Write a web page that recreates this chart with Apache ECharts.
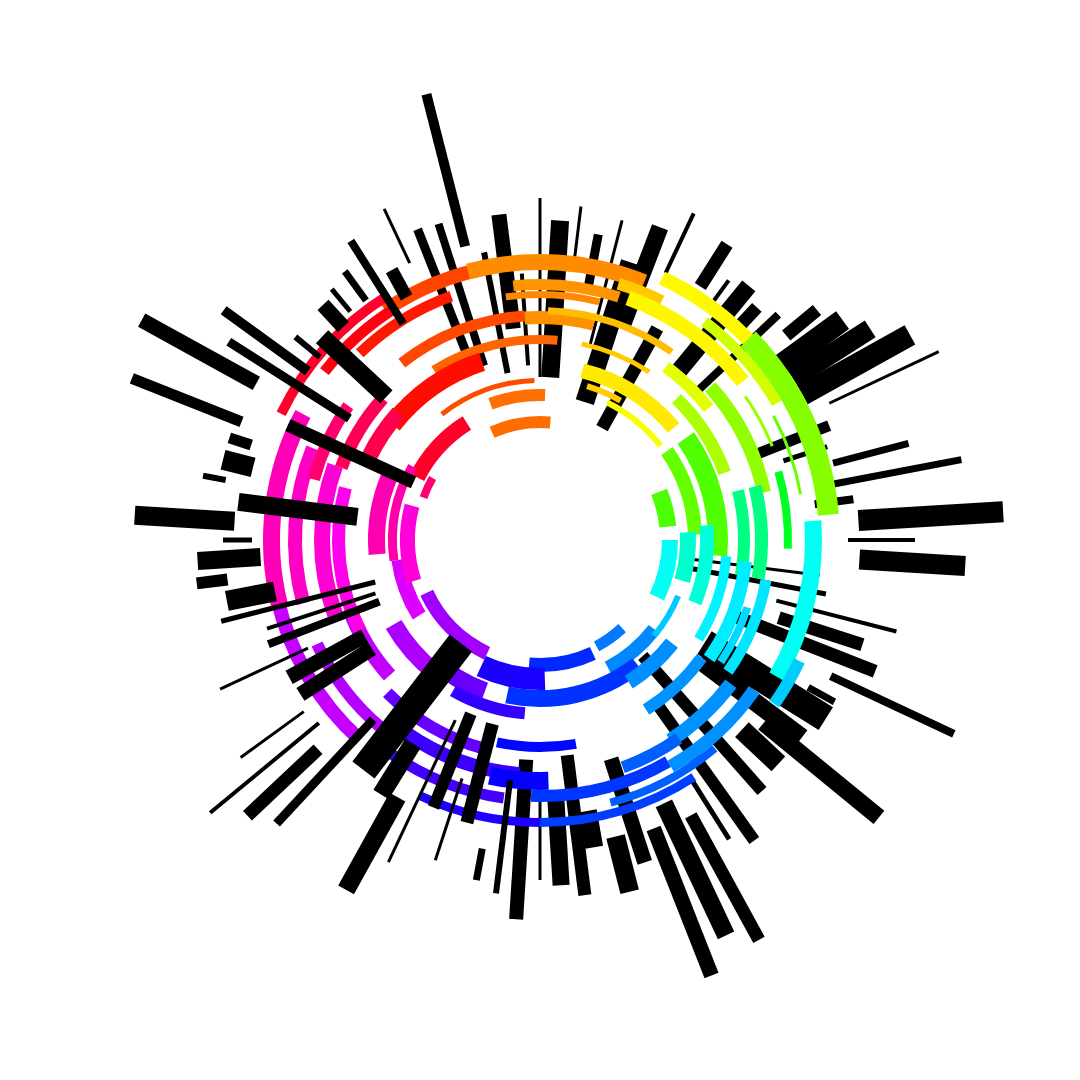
<!DOCTYPE html>
<html>
<head>
<meta charset="utf-8">
<script src="https://cdn.jsdelivr.net/npm/echarts@6/dist/echarts.min.js"></script>
<style>
  html, body { margin: 0; padding: 0; background: #fff; }
  #main { width: 1080px; height: 1080px; }
</style>
</head>
<body>
<div id="main"></div>
<script>
// radial bars: [angle (deg, clockwise from 12 o'clock), inner radius, outer radius, thickness]
var barsBehind = [
  [345.7,303,460,10], [338.5,197,334,9], [342.2,183,332,8], [352.8,213,328,15],
  [349,170,293,6], [356.1,175,267,4], [0,163,342,3], [3.6,163,320,18],
  [7,280,336,3], [10.8,251,311,9], [14.4,200,330,3], [21,230,335,17],
  [18,145,292,19], [29,128,242,13], [25.2,295,361,4], [32.3,300,350,13],
  [36,296,321,4], [39.4,220,329,17], [43,290,318,13], [46.6,213,328,8],
  [50.3,320,360,13], [54,290,374,22], [57.4,300,392,20], [61,300,423,22],
  [64.7,320,441,3], [68.4,233,311,11], [72,256,302,5], [75.3,303,381,7],
  [79.2,299,429,7], [82.6,277,316,8], [86.5,319,464,21], [90,308,375,4],
  [93.5,320,426,20], [97.2,143,282,3], [100.7,143,291,5], [104.4,244,368,4],
  [108,251,339,13], [111.4,206,360,13], [115.1,321,457,8], [118.8,306,336,7],
  [122,194,337,27], [127,200,328,18], [129.3,289,438,17], [133.2,277,327,20],
  [138.5,155,335,12], [144.5,200,369,12], [147.7,283,354,5], [151.3,314,456,13],
  [154.8,291,437,18], [158.5,310,468,15], [162,230,339,15], [165.7,306,363,19],
  [170,275,312,18], [172.8,217,358,13], [176.5,259,346,17], [180,257,340,3],
  [183.6,220,380,14]
];
var barsFront = [
  [187.1,242,356,6], [190.6,314,346,7], [194.5,190,292,13], [198.1,251,337,3],
  [201.7,187,288,12], [205.2,199,356,3], [209,294,400,18], [212,240,300,18],
  [217.5,130,290,28], [222.9,245,387,9], [226.7,305,402,13], [230.4,287,428,4],
  [234,292,370,3], [237.2,200,285,15], [241.3,200,286,15], [245,256,353,3],
  [249,172,291,8], [252,173,287,4], [255.7,170,329,5], [259,270,319,20],
  [262.8,315,346,12], [266.5,280,343,18], [270,288,317,5], [273.5,306,406,19],
  [277.2,184,304,18], [280.8,320,343,6], [284.2,296,327,20], [288.2,304,327,11],
  [291.6,321,439,11], [294.5,139,277,13], [298.9,324,455,15], [302.5,226,369,9],
  [306,287,391,10], [309.7,286,318,6], [313,210,298,18], [317.3,290,320,15],
  [320.3,297,326,5], [324,296,332,7], [327.7,256,354,8], [331.2,277,308,13],
  [334.8,306,366,3]
];
// arcs: [start angle, end angle, inner radius, outer radius]
var arcs = [
  [326,350,270,284], [345,382,270,286], [296,328,283,293], [308,328,268,279],
  [316,340,254,265], [322,356,219,230], [356,374,216,229], [328,365,196,205],
  [308,342,178,197], [322,358,157,162], [340,362,139,151], [336,365,112,124],
  [297,328,130,146], [290,300,120,128], [354,378,250,261], [17,27,262,274],
  [2,35,226,233], [352,374,242,249], [12,33,198,203], [14,50,167,182],
  [17,30,158,164], [26,52,150,156], [20,52,250,265], [25,48,282,296],
  [37,60,268,279], [46,85,279,300], [55,68,249,252], [62,80,263,266],
  [36,52,208,220], [48,78,222,236], [44,70,190,203], [55,88,148,162],
  [55,95,168,188], [68,84,120,137], [76,100,198,210], [76,100,215,228],
  [74,92,244,252], [86,120,265,282], [87,106,140,156], [85,112,160,174],
  [90,116,122,138], [95,122,182,192], [96,125,200,213], [108,124,214,222],
  [100,125,224,235], [115,125,280,292], [137,152,115,126], [128,152,138,152],
  [112,130,146,152], [155,185,118,132], [142,192,150,167], [128,148,160,175],
  [126,148,194,206], [127,147,232,246], [145,160,236,248], [125,150,255,268],
  [150,182,250,262], [140,165,268,276], [170,192,202,212], [147,180,278,287],
  [180,205,278,287], [238,262,135,150], [205,245,118,132], [178,205,128,150],
  [218,240,160,178], [200,222,152,170], [185,210,168,180], [228,250,195,210],
  [222,258,262,276], [220,245,240,252], [195,225,210,222], [185,215,228,242],
  [188,215,255,266], [178,192,232,250], [256,298,260,277], [255,292,238,252],
  [250,290,210,226], [243,285,195,208], [265,293,155,172], [262,300,143,152],
  [252,285,125,140], [285,305,228,240], [290,312,205,218], [296,312,182,198]
];

// mid angle of an arc -> hue
var hueStops = [[0,30],[36,58],[65,88],[78,105],[90,160],[105,180],[145,212],[190,245],
  [225,278],[250,292],[275,315],[300,338],[320,358],[345,383],[360,390]];

function hueAt(a) {
  a = ((a % 360) + 360) % 360;
  for (var i = 1; i < hueStops.length; i++) {
    var s0 = hueStops[i - 1], s1 = hueStops[i];
    if (a <= s1[0]) {
      var t = (a - s0[0]) / (s1[0] - s0[0]);
      return (s0[1] + t * (s1[1] - s0[1])) % 360;
    }
  }
  return 30;
}

function renderBar(params, api) {
  var a = api.value(0);
  var c = api.coord([0, a]);
  var p0 = api.coord([api.value(1), a]);
  var p1 = api.coord([api.value(2), a]);
  var pw = api.coord([api.value(3), a]);
  var w = Math.hypot(pw[0] - c[0], pw[1] - c[1]) / 2;
  var dx = p1[0] - p0[0], dy = p1[1] - p0[1];
  var len = Math.hypot(dx, dy) || 1;
  var nx = -dy / len * w, ny = dx / len * w;
  return {
    type: 'polygon',
    shape: { points: [
      [p0[0] + nx, p0[1] + ny], [p1[0] + nx, p1[1] + ny],
      [p1[0] - nx, p1[1] - ny], [p0[0] - nx, p0[1] - ny]
    ] },
    style: { fill: '#000' }
  };
}

function renderArc(params, api) {
  var a0 = api.value(0), a1 = api.value(1);
  var c = api.coord([0, a0]);
  var s = api.coord([api.value(3), a0]);
  var e = api.coord([api.value(3), a1]);
  var q = api.coord([api.value(2), a0]);
  var t0 = Math.atan2(s[1] - c[1], s[0] - c[0]);
  var span = Math.atan2(e[1] - c[1], e[0] - c[0]) - t0;
  while (span <= 0) span += Math.PI * 2;
  return {
    type: 'sector',
    shape: {
      cx: c[0], cy: c[1],
      r0: Math.hypot(q[0] - c[0], q[1] - c[1]),
      r: Math.hypot(s[0] - c[0], s[1] - c[1]),
      startAngle: t0, endAngle: t0 + span, clockwise: true
    },
    style: { fill: 'hsl(' + hueAt((a0 + a1) / 2).toFixed(1) + ',100%,50%)' }
  };
}

var chart = echarts.init(document.getElementById('main'));
chart.setOption({
  animation: false,
  backgroundColor: '#fff',
  polar: { center: ['50%', '50%'], radius: 500 },
  angleAxis: { type: 'value', min: 0, max: 360, startAngle: 90, clockwise: true, show: false },
  radiusAxis: { type: 'value', min: 0, max: 500, show: false },
  series: [
    { type: 'custom', coordinateSystem: 'polar', silent: true, renderItem: renderBar, data: barsBehind },
    { type: 'custom', coordinateSystem: 'polar', silent: true, renderItem: renderArc, data: arcs },
    { type: 'custom', coordinateSystem: 'polar', silent: true, renderItem: renderBar, data: barsFront }
  ]
});
</script>
</body>
</html>
